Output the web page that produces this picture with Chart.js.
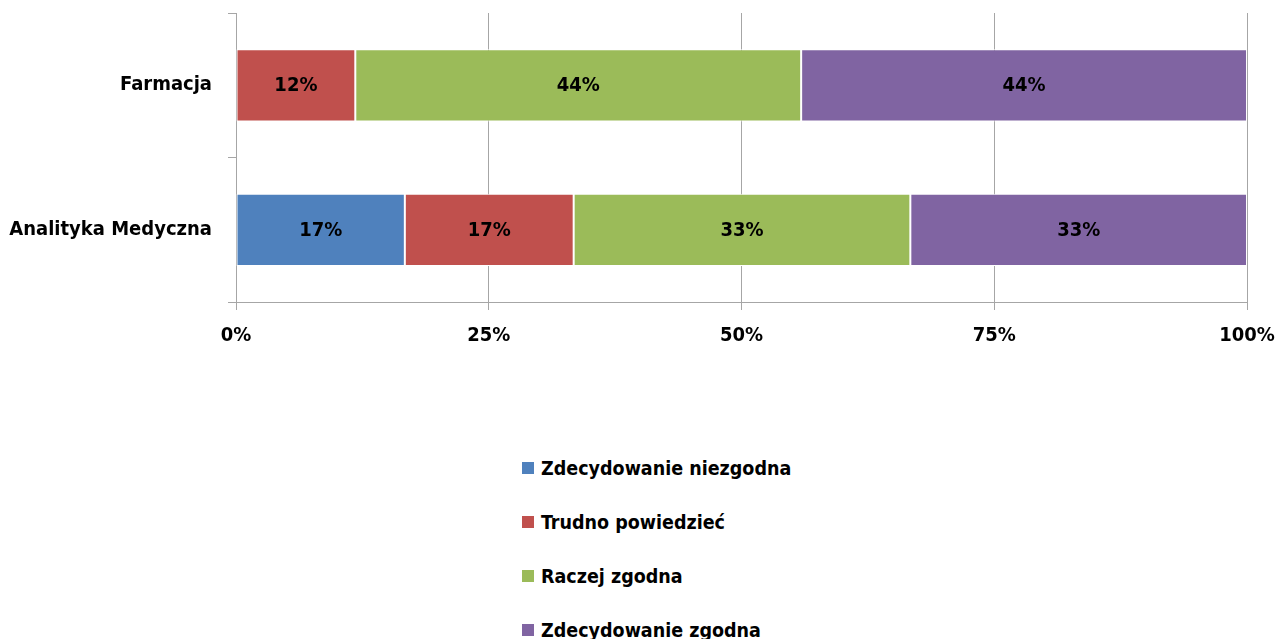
<!DOCTYPE html>
<html>
<head>
<meta charset="utf-8">
<script src="https://cdn.jsdelivr.net/npm/chart.js@4/dist/chart.umd.min.js"></script>
<style>
body{margin:0;background:#fff;}
#wrap{position:relative;width:1280px;height:639px;overflow:hidden;}
#legend{position:absolute;left:522px;top:441px;font-family:"DejaVu Sans Condensed","DejaVu Sans",sans-serif;font-stretch:condensed;font-weight:bold;font-size:19.5px;color:#000;}
.item{display:flex;align-items:center;height:54px;}
.box{width:12px;height:12px;margin-right:7px;}
</style>
</head>
<body>
<div id="wrap">
<canvas id="chart" width="1280" height="360"></canvas>
<div id="legend"></div>
</div>
<script>
const categories=["Farmacja","Analityka Medyczna"];

const seriesNames=[
"Zdecydowanie niezgodna",
"Trudno powiedzieć",
"Raczej zgodna",
"Zdecydowanie zgodna"
];

const niezgodna=[0,16.7];
const trudno=[11.8,16.7];
const raczej=[44.1,33.3];
const zgodna=[44.1,33.3];

const xTicks=[0,25,50,75,100];

const colors=["#4F81BD","#C0504D","#9BBB59","#8064A2"];

const fontFamily="'DejaVu Sans Condensed', 'DejaVu Sans', sans-serif";
const font={family:fontFamily,weight:"bold",size:20};

const barLabels={
id:"barLabels",
afterDatasetsDraw(chart){
const ctx=chart.ctx;
ctx.save();
ctx.font="bold 20px "+fontFamily;
ctx.fillStyle="#000";
ctx.textAlign="center";
ctx.textBaseline="middle";
chart.data.datasets.forEach((ds,i)=>{
chart.getDatasetMeta(i).data.forEach((bar,j)=>{
const v=ds.data[j];
if(!v)return;
const p=bar.getProps(["x","y","base"],true);
ctx.fillText(Math.round(v)+"%",(p.x+p.base)/2,p.y+1);
});
});
ctx.restore();
}
};

const chart=new Chart(
document.getElementById("chart"),
{
type:"bar",
data:{
labels:categories,
datasets:[niezgodna,trudno,raczej,zgodna].map((d,i)=>({
label:seriesNames[i],
data:d,
backgroundColor:colors[i],
borderColor:"#fff",
borderWidth:1,
borderSkipped:false,
barPercentage:0.5,
categoryPercentage:1
}))
},
options:{
indexAxis:"y",
responsive:false,
animation:false,
layout:{padding:{top:13,right:33,left:0,bottom:0}},
plugins:{legend:{display:false},tooltip:{enabled:false}},
scales:{
x:{
stacked:true,
min:0,
max:100,
afterBuildTicks(s){s.ticks=xTicks.map(v=>({value:v}));},
afterFit(s){s.height=58;s.paddingLeft=0;s.paddingRight=0;},
ticks:{
color:"#000",
font:font,
padding:14,
maxRotation:0,
callback:v=>v+"%"
},
grid:{color:"#A6A6A6",tickLength:8},
border:{color:"#A6A6A6"}
},
y:{
stacked:true,
afterFit(s){s.width=236;s.paddingTop=0;s.paddingBottom=0;},
ticks:{color:"#000",font:font,padding:16},
grid:{offset:true,drawOnChartArea:false,color:"#A6A6A6",tickLength:8},
border:{color:"#A6A6A6"}
}
}
},
plugins:[barLabels]
}
);

const legend=document.getElementById("legend");
chart.data.datasets.forEach(ds=>{
const row=document.createElement("div");
row.className="item";
const box=document.createElement("span");
box.className="box";
box.style.background=ds.backgroundColor;
const txt=document.createElement("span");
txt.textContent=ds.label;
row.appendChild(box);
row.appendChild(txt);
legend.appendChild(row);
});
</script>
</body>
</html>
